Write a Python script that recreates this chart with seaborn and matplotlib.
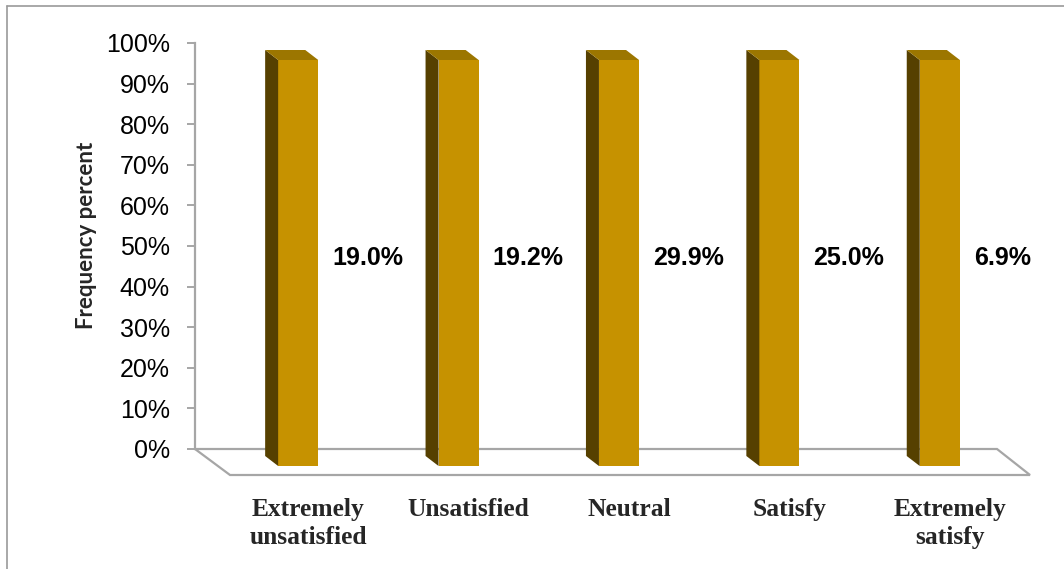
# Libraries
# ===================================================
import pandas as pd
import seaborn as sns
import matplotlib.pyplot as plt
from matplotlib.patches import Polygon
from matplotlib.lines import Line2D
from matplotlib.transforms import ScaledTranslation, IdentityTransform

# Data
# ===================================================
categories = ['Extremely\nunsatisfied', 'Unsatisfied', 'Neutral', 'Satisfy', 'Extremely\nsatisfy']
bar_height = [100, 100, 100, 100, 100]
percent = [19.0, 19.2, 29.9, 25.0, 6.9]
y_ticks = [0, 10, 20, 30, 40, 50, 60, 70, 80, 90, 100]
y_tick_labels = [f'{t}%' for t in y_ticks]

# Colors
front_color = '#C69200'
side_color = '#564000'
top_color = '#9C7600'
line_grey = '#A6A6A6'

# Figure setup
# ===================================================
sns.set_style('white')
plt.rcParams['font.family'] = ['Liberation Sans', 'DejaVu Sans']

DPI = 100
W, H = 1064, 569
fig = plt.figure(figsize=(W / DPI, H / DPI), dpi=DPI, facecolor='white')
ax = fig.add_axes([195 / W, 1 - 449 / H, 802 / W, 406 / H])


def px(dx, dy):
    # shift in image pixels (right, down)
    return ScaledTranslation(dx / DPI, -dy / DPI, fig.dpi_scale_trans)


df = pd.DataFrame({'category': categories, 'value': bar_height})
sns.barplot(data=df, x='category', y='value', color=front_color, saturation=1,
            width=0.25, linewidth=0, ax=ax, zorder=3)
ax.set_xlim(-0.5, 4.5)
ax.set_ylim(0, 100)

# Fake 3D bars
# ===================================================
FRONT = (23, 17)   # front face offset from axis plane
DEPTH = (13, 10)   # bar depth (left, up)
front_tr = ax.transData + px(*FRONT)

for p in list(ax.patches):
    p.set_transform(front_tr)
    p.set_clip_on(False)
    x0, y0, w, h = p.get_x(), p.get_y(), p.get_width(), p.get_height()
    bl = front_tr.transform((x0, y0))
    tl = front_tr.transform((x0, y0 + h))
    tr = front_tr.transform((x0 + w, y0 + h))
    back = lambda pt: (pt[0] - DEPTH[0], pt[1] + DEPTH[1])
    side = Polygon([bl, tl, back(tl), back(bl)], closed=True, facecolor=side_color,
                   edgecolor='none', transform=IdentityTransform(), zorder=3, clip_on=False)
    top = Polygon([tl, tr, back(tr), back(tl)], closed=True, facecolor=top_color,
                  edgecolor='none', transform=IdentityTransform(), zorder=3, clip_on=False)
    ax.add_patch(side)
    ax.add_patch(top)

# Floor
bk_l = ax.transData.transform((-0.5, 0))
bk_r = ax.transData.transform((4.5, 0))
floor = Polygon([bk_l, bk_r, (bk_r[0] + 33, bk_r[1] - 26), (bk_l[0] + 35, bk_l[1] - 26)],
                closed=True, facecolor='white', edgecolor=line_grey, linewidth=1.6,
                transform=IdentityTransform(), zorder=1, clip_on=False)
ax.add_patch(floor)

ax.set_xlim(-0.5, 4.5)
ax.set_ylim(0, 100)

# Data labels
for i, v in enumerate(percent):
    ax.text(i, 47.0, f'{v:.1f}%', transform=ax.transData + px(57, 0),
            ha='left', va='center', fontsize=18, fontweight='bold', color='black', zorder=4)

# Axes styling
# ===================================================
for s in ['top', 'right', 'bottom']:
    ax.spines[s].set_visible(False)
ax.spines['left'].set_color(line_grey)
ax.spines['left'].set_linewidth(1.6)

ax.set_yticks(y_ticks, y_tick_labels)
ax.tick_params(axis='y', left=True, length=6, width=1.4, color=line_grey, pad=12,
               labelsize=18, labelcolor='black')
ax.tick_params(axis='x', bottom=False, length=0, pad=35)
ax.set_xlabel('')
for lbl in ax.get_xticklabels():
    lbl.set_fontfamily(['Liberation Serif', 'DejaVu Serif'])
    lbl.set_fontweight('bold')
    lbl.set_fontsize(18.4)
    lbl.set_linespacing(1.3)
    lbl.set_transform(lbl.get_transform() + px(33, 0))

ax.set_ylabel('Frequency percent', fontsize=16, fontweight='bold',
              family=['Lato', 'DejaVu Sans'], va='center')
ax.yaxis.set_label_coords(-0.1347, 0.527)

# Outer frame
fig.add_artist(Line2D([7 / W, 7 / W], [0, 1 - 5.5 / H], transform=fig.transFigure,
                      color='#9A9A9A', linewidth=1.2))
fig.add_artist(Line2D([7 / W, 1], [1 - 5.5 / H, 1 - 5.5 / H], transform=fig.transFigure,
                      color='#9A9A9A', linewidth=1.2))

fig.savefig('out.png', dpi=DPI)
